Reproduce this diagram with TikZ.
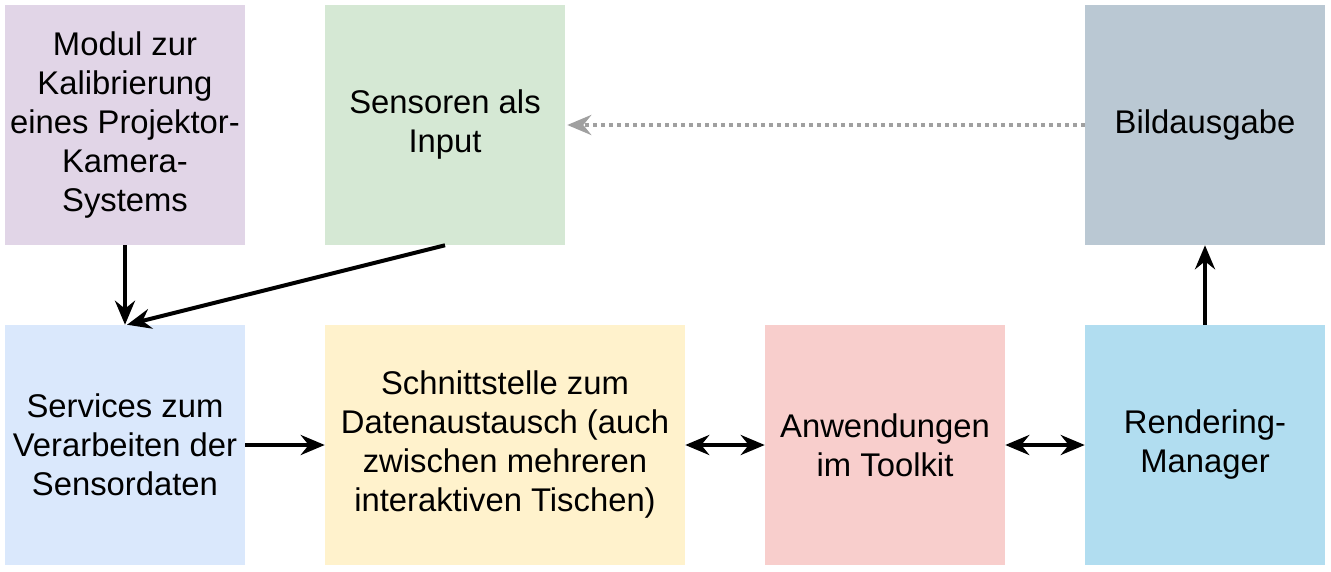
\documentclass[tikz,border=0pt]{standalone}
\usepackage{fontspec}
\setmainfont{Liberation Sans}
\usetikzlibrary{arrows.meta}

\definecolor{cmodul}{HTML}{E1D5E7}
\definecolor{csensor}{HTML}{D5E8D4}
\definecolor{cbild}{HTML}{BAC8D3}
\definecolor{cservice}{HTML}{DAE8FC}
\definecolor{cschnitt}{HTML}{FFF2CC}
\definecolor{canwend}{HTML}{F8CECC}
\definecolor{crender}{HTML}{B1DDF0}
\definecolor{cdots}{HTML}{A0A0A0}

\tikzset{
  block/.style={minimum width=180pt, minimum height=180pt, inner sep=0pt,
    align=center, font=\fontsize{24.6}{29.25}\selectfont},
  flow/.style={line width=3pt, -{Stealth[length=18pt, width=15pt, inset=6pt]}},
  biflow/.style={line width=3pt, {Stealth[length=18pt, width=15pt, inset=6pt]}-{Stealth[length=18pt, width=15pt, inset=6pt]}}
}

\begin{document}
\begin{tikzpicture}[x=0.75pt, y=-0.75pt]
\useasboundingbox[fill=white] (0,0) rectangle (1331,571);

% top row
\node[block, fill=cmodul] (modul) at (125,125) {Modul zur\\Kalibrierung\\eines Projektor-\\Kamera-\\Systems};
\node[block, fill=csensor] (sensor) at (445,125) {Sensoren als\\Input};
\node[block, fill=cbild] (bild) at (1205,125) {Bildausgabe};

% bottom row
\node[block, fill=cservice] (service) at (125,445) {Services zum\\Verarbeiten der\\Sensordaten};
\node[block, fill=cschnitt, minimum width=270pt] (schnitt) at (505,445) {Schnittstelle zum\\Datenaustausch (auch\\zwischen mehreren\\interaktiven Tischen)};
\node[block, fill=canwend] (anwend) at (885,445) {Anwendungen\\im Toolkit};
\node[block, fill=crender] (render) at (1205,445) {Rendering-\\Manager};

% connectors
\draw[flow] (modul.south) -- (service.north);
\draw[flow] (sensor.south) -- ([xshift=1.5pt]service.north);
\draw[flow] (service.east) -- (schnitt.west);
\draw[biflow] (schnitt.east) -- (anwend.west);
\draw[biflow] (anwend.east) -- (render.west);
\draw[flow] (render.north) -- (bild.south);
\draw[line width=3pt, cdots, dash pattern=on 3pt off 3pt,
  -{Stealth[length=18pt, width=15pt, inset=6pt]}] (bild.west) -- ([xshift=1.5pt]sensor.east);
\end{tikzpicture}
\end{document}
